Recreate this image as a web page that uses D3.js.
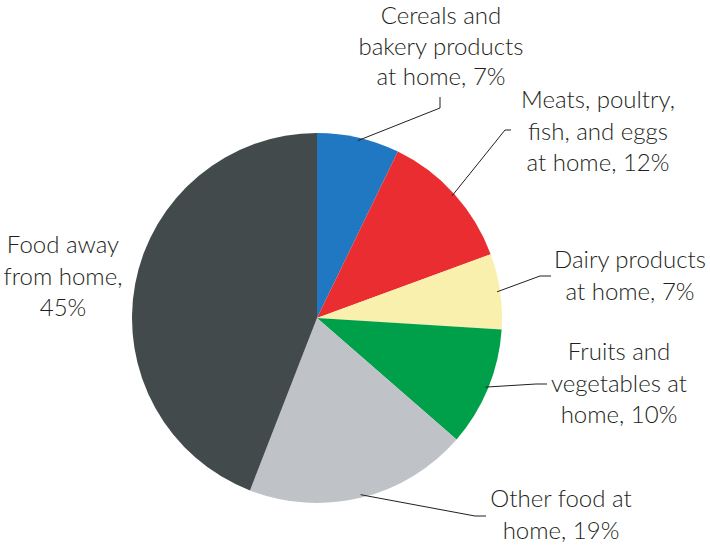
<!DOCTYPE html>
<html><head><meta charset="utf-8">
<script src="https://cdn.jsdelivr.net/npm/d3@7"></script>
<style>body{margin:0;background:#fff}svg{display:block}text{font-family:Lato,"Noto Sans",sans-serif;fill:#231f20;font-weight:300}</style>
</head><body>
<svg id="c" width="710" height="546"></svg>
<script>
// Data
const categories = ["Cereals and bakery products at home","Meats, poultry, fish, and eggs at home","Dairy products at home","Fruits and vegetables at home","Other food at home","Food away from home"];
const values = [7.2, 12.2, 6.6, 10.4, 19.5, 44.1];
const labelText = [
  ["Cereals and","bakery products","at home, 7%"],
  ["Meats, poultry,","fish, and eggs","at home, 12%"],
  ["Dairy products","at home, 7%"],
  ["Fruits and","vegetables at","home, 10%"],
  ["Other food at","home, 19%"],
  ["Food away","from home,","45%"]
];
const colors = ["#1f78c1","#e92d30","#f9f0ae","#00a04b","#bfc2c7","#434a4b"];

// Layout (not data)
const cx = 317, cy = 318, R = 185;
const fontSize = 24, lineH = 31.5;
// label: center x, first baseline y; leader: elbow & end points (null = no leader)
const labelLayout = [
  {x:441, y:24, lh:30.5, elbow:[440,108], end:[440,97]},
  {x:598, y:108, elbow:[505,130], end:[511,130]},
  {x:630, y:268, elbow:[540,276], end:[551,276]},
  {x:619, y:360, elbow:[536,384], end:[547,384]},
  {x:561, y:507, elbow:[475,516], end:[486,516]},
  {x:63, y:253, elbow:null, end:null}
];

const svg = d3.select("#c");
const g = svg.append("g").attr("transform",`translate(${cx},${cy})`);
const data = categories.map((c,i)=>({c, v:values[i], i}));
const pie = d3.pie().value(d=>d.v).sort(null);
const arcs = pie(data);
const arc = d3.arc().innerRadius(0).outerRadius(R);
g.selectAll("path.slice").data(arcs).join("path")
  .attr("class","slice").attr("d",arc).attr("fill",d=>colors[d.data.i]);

// leader lines
const edgeArc = d3.arc().innerRadius(R-3).outerRadius(R-3);
arcs.forEach(a=>{
  const L = labelLayout[a.data.i];
  if(!L.elbow) return;
  const p = edgeArc.centroid(a);
  const start = [p[0]+cx, p[1]+cy];
  svg.append("polyline")
    .attr("points",[start,L.elbow,L.end].map(q=>q.join(",")).join(" "))
    .attr("fill","none").attr("stroke","#231f20").attr("stroke-width",1);
});

// labels
labelText.forEach((lines,i)=>{
  const L = labelLayout[i];
  const lh = L.lh || lineH;
  const t = svg.append("text").attr("text-anchor","middle").attr("font-size",fontSize);
  lines.forEach((s,k)=>t.append("tspan").attr("x",L.x).attr("y",L.y+k*lh).text(s));
});
</script>
</body></html>
